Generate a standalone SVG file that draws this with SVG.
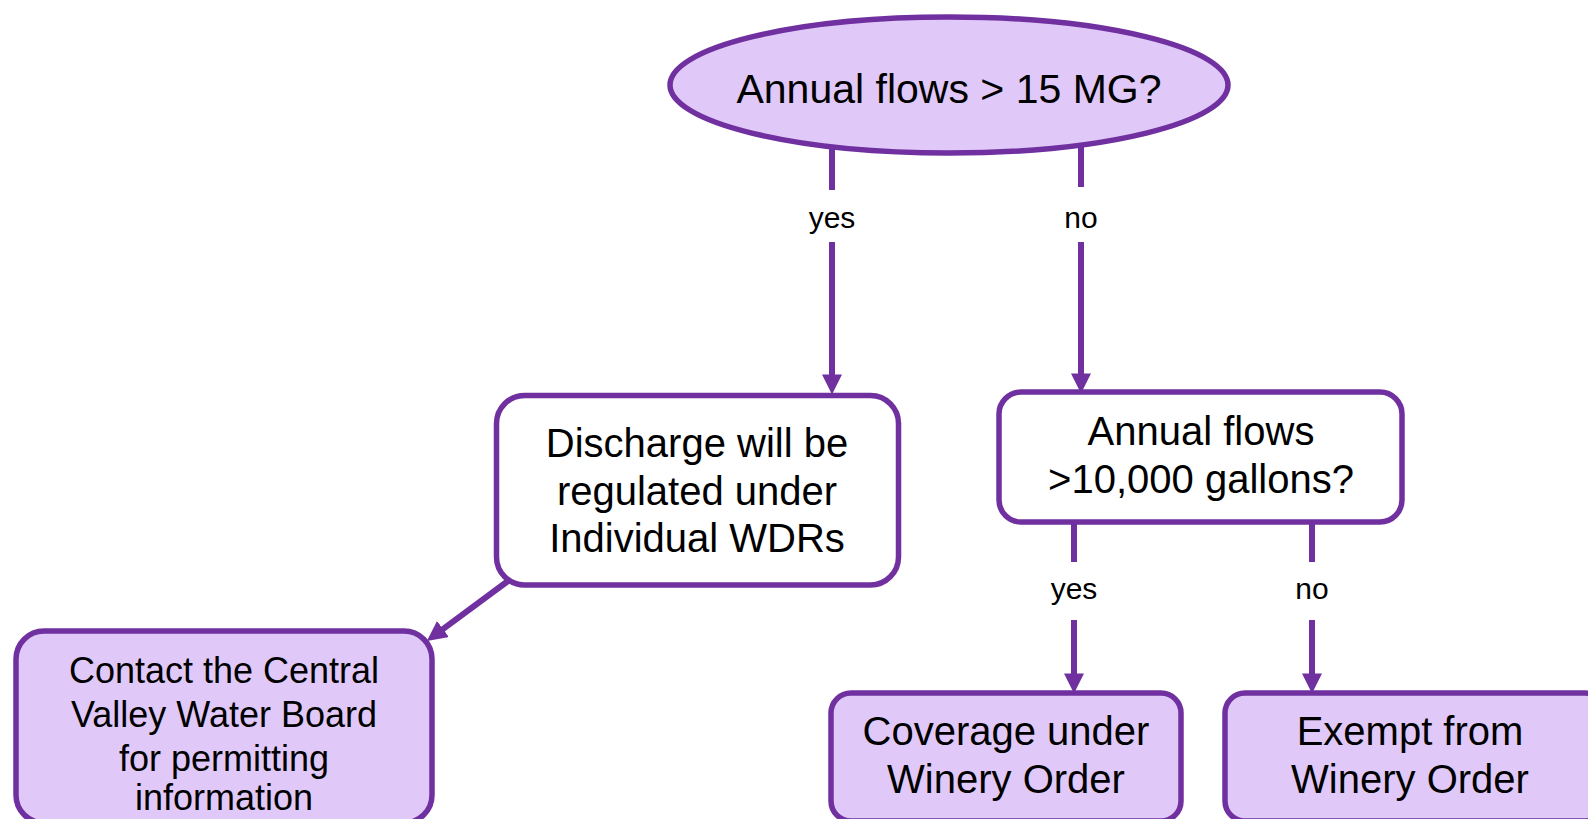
<svg xmlns="http://www.w3.org/2000/svg" width="1588" height="819" viewBox="0 0 1588 819">
<defs>
<style>
.box{stroke:#7030a0;stroke-width:5.5}
.fill{fill:#e0c9f8}
.white{fill:#ffffff}
.t{font-family:"Liberation Sans",Arial,sans-serif;fill:#000;text-anchor:middle}
.big{font-size:40px}
.lbl{font-size:30px}
.con{fill:none;stroke:#7030a0;stroke-width:6}
</style>
<marker id="ah" markerUnits="userSpaceOnUse" markerWidth="20" markerHeight="20" viewBox="0 0 18 18" refX="5" refY="9" orient="auto">
<path d="M0,0 L18,9 L0,18 z" fill="#7030a0"/>
</marker>
</defs>
<rect width="1588" height="819" fill="#ffffff"/>
<g id="connectors">
<path class="con" d="M832 147 V190 M832 242 V380" marker-end="url(#ah)"/>
<path class="con" d="M1081 146 V187 M1081 242 V379" marker-end="url(#ah)"/>
<path class="con" d="M1074 522 V562 M1074 620 V679" marker-end="url(#ah)"/>
<path class="con" d="M1312 522 V562 M1312 620 V679" marker-end="url(#ah)"/>
<path class="con" d="M508 581 L438.5 632.3" marker-end="url(#ah)"/>
<text class="t lbl" x="832" y="228">yes</text>
<text class="t lbl" x="1081" y="228">no</text>
<text class="t lbl" x="1074" y="599">yes</text>
<text class="t lbl" x="1312" y="599">no</text>
</g>
<g id="start">
<ellipse class="box fill" cx="949" cy="85" rx="279" ry="68"/>
<text class="t" x="949" y="103" font-size="41">Annual flows &gt; 15 MG?</text>
</g>
<g id="individual">
<rect class="box white" x="496.5" y="395.5" width="402" height="189.5" rx="28"/>
<text class="t big" x="697" y="457">Discharge will be</text>
<text class="t big" x="697" y="505">regulated under</text>
<text class="t big" x="697" y="552">Individual WDRs</text>
</g>
<g id="decision2">
<rect class="box white" x="999" y="392" width="403" height="130" rx="22"/>
<text class="t big" x="1201" y="445">Annual flows</text>
<text class="t big" x="1201" y="493">&gt;10,000 gallons?</text>
</g>
<g id="contact">
<rect class="box fill" x="16" y="631" width="416" height="192" rx="28"/>
<text class="t" font-size="36" x="224" y="683">Contact the Central</text>
<text class="t" font-size="36" x="224" y="727">Valley Water Board</text>
<text class="t" font-size="36" x="224" y="771">for permitting</text>
<text class="t" font-size="36" x="224" y="810">information</text>
</g>
<g id="coverage">
<rect class="box fill" x="831" y="693" width="350" height="128" rx="20"/>
<text class="t big" x="1006" y="745">Coverage under</text>
<text class="t big" x="1006" y="793">Winery Order</text>
</g>
<g id="exempt">
<rect class="box fill" x="1225" y="693" width="380" height="128" rx="20"/>
<text class="t big" x="1410" y="745">Exempt from</text>
<text class="t big" x="1410" y="793">Winery Order</text>
</g>
</svg>
